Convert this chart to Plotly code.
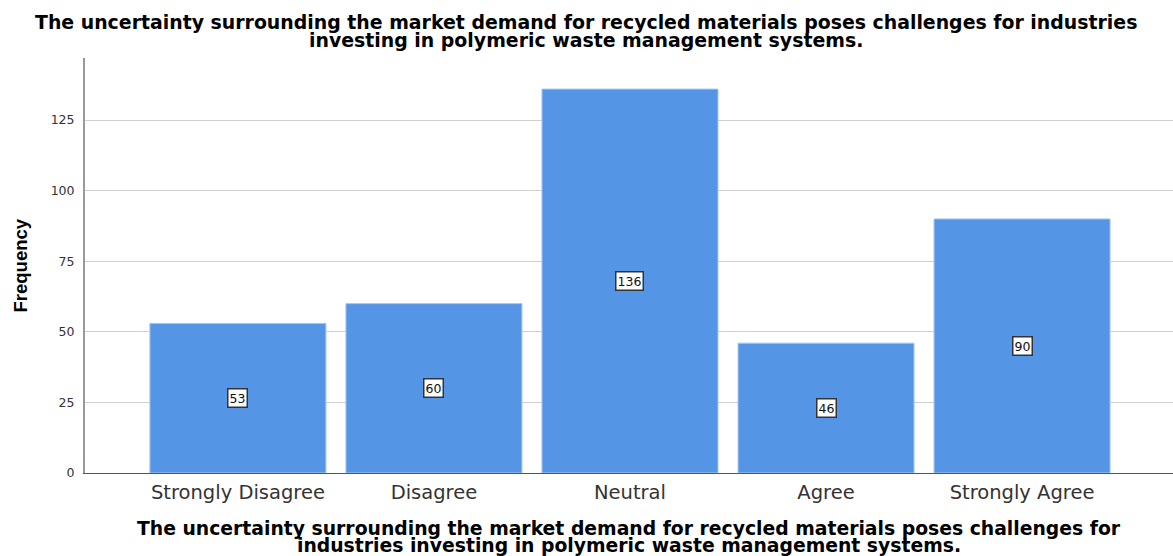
import plotly.graph_objects as go

categories = ["Strongly Disagree", "Disagree", "Neutral", "Agree", "Strongly Agree"]
frequencies = [53, 60, 136, 46, 90]
y_ticks = [0, 25, 50, 75, 100, 125]

title_lines = [
    "The uncertainty surrounding the market demand for recycled materials poses challenges for industries",
    "investing in polymeric waste management systems.",
]
x_title_lines = [
    "The uncertainty surrounding the market demand for recycled materials poses challenges for",
    "industries investing in polymeric waste management systems.",
]

bar_color = "#5595E5"
wide = "DejaVu Sans, Verdana, Arial"

fig = go.Figure()
fig.add_trace(go.Bar(
    x=list(range(len(categories))),
    y=frequencies,
    width=0.898,
    marker=dict(color=bar_color, line=dict(color="#A9C9F2", width=1)),
    hoverinfo="x+y",
))

# value labels in white boxes at the middle of each bar
for i, v in enumerate(frequencies):
    fig.add_annotation(
        x=i, y=v / 2, text=str(v), showarrow=False,
        font=dict(family=wide, size=12.5, color="#111111"),
        bgcolor="white", bordercolor="#333333", borderwidth=1.5, borderpad=1,
    )

# chart title, one annotation per line for tight leading
for line, shift in zip(title_lines, [36, 18]):
    fig.add_annotation(
        xref="paper", yref="paper", x=(586 - 85) / 1088, y=1, yshift=shift,
        xanchor="center", yanchor="middle", showarrow=False,
        text="<b>" + line + "</b>",
        font=dict(family=wide, size=18.9, color="#000000"),
    )

# x-axis title
for line, shift in zip(x_title_lines, [-55, -72]):
    fig.add_annotation(
        xref="paper", yref="paper", x=0.5, y=0, yshift=shift,
        xanchor="center", yanchor="middle", showarrow=False,
        text="<b>" + line + "</b>",
        font=dict(family=wide, size=18.8, color="#000000"),
    )

# y-axis title
fig.add_annotation(
    xref="paper", yref="paper", x=0, xshift=-65, y=0.5,
    xanchor="center", yanchor="middle", showarrow=False, textangle=-90,
    text="<b>Frequency</b>",
    font=dict(family="Liberation Sans, Arial", size=18.5, color="#000000"),
)

fig.update_layout(
    width=1173, height=556,
    margin=dict(l=85, r=0, t=58, b=83),
    paper_bgcolor="white", plot_bgcolor="white",
    showlegend=False,
)
fig.update_xaxes(
    range=[-0.78, 4.77],
    tickmode="array", tickvals=list(range(len(categories))), ticktext=categories,
    tickfont=dict(family=wide, size=19.5, color="#333333"),
    showline=True, linecolor="#555555", linewidth=1,
    showgrid=False, zeroline=False, ticks="", ticklabelstandoff=2,
)
fig.update_yaxes(
    range=[0, 147],
    tickmode="array", tickvals=y_ticks,
    tickfont=dict(family=wide, size=12.5, color="#333333"),
    showline=True, linecolor="#999999", linewidth=2,
    showgrid=True, gridcolor="#D0D0D0", gridwidth=1,
    zeroline=False, ticks="", ticklabelstandoff=6,
)

fig.write_html("out.html")
